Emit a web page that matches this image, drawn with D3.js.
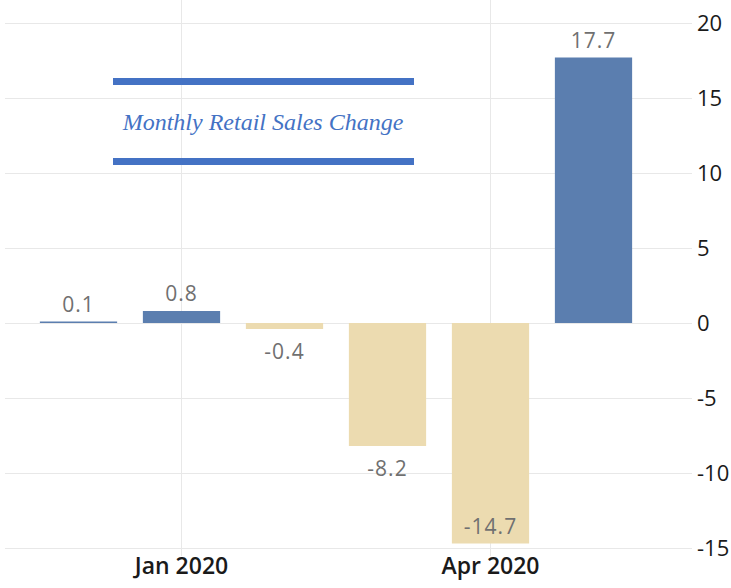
<!DOCTYPE html>
<html>
<head>
<meta charset="utf-8">
<script src="https://cdn.jsdelivr.net/npm/d3@7"></script>
<style>
    body { margin: 0; background: #fff; }
    svg { display: block; }
</style>
</head>
<body>
<div id="chart"></div>
<script>
// data
const months = ["Dec 2019", "Jan 2020", "Feb 2020", "Mar 2020", "Apr 2020", "May 2020"];
const changes = [0.1, 0.8, -0.4, -8.2, -14.7, 17.7];
const xTickLabels = ["Jan 2020", "Apr 2020"];
const yTicks = [-15, -10, -5, 0, 5, 10, 15, 20];
const title = "Monthly Retail Sales Change";

const W = 731, H = 588;

const svg = d3.select('#chart').append('svg')
    .attr('width', W)
    .attr('height', H);

const x = d3.scaleBand()
    .domain(months)
    .range([27, 645])
    .paddingInner(0.25)
    .paddingOuter(0.125);

const y = d3.scaleLinear()
    .domain([-15, 20])
    .range([548, 23]);

// horizontal grid + right labels (plain hyphen, not unicode minus)
const yAxis = svg.append('g')
    .attr('transform', 'translate(692,0)')
    .call(d3.axisLeft(y).tickValues(yTicks).tickSize(687).tickFormat(d => String(d)));
yAxis.select('.domain').remove();
yAxis.selectAll('line').attr('stroke', '#e8e8e8');
yAxis.selectAll('text')
    .attr('x', 5)
    .attr('text-anchor', 'start')
    .attr('dy', '0.33em')
    .style('font-family', '"Open Sans", sans-serif')
    .style('font-size', '22px')
    .style('fill', '#1a1a1a');

// vertical grid at labelled months
const xAxis = svg.append('g')
    .attr('transform', 'translate(0,556)')
    .call(d3.axisBottom(x).tickValues(xTickLabels).tickSize(-556).tickPadding(6));
xAxis.select('.domain').remove();
xAxis.selectAll('line').attr('stroke', '#e8e8e8');
xAxis.selectAll('text')
    .style('font-family', '"Open Sans", sans-serif')
    .style('font-size', '23px')
    .style('font-weight', '600')
    .style('fill', '#1a1a1a')
    .attr('dy', '0.5em');

const bars = months.map((m, i) => ({month: m, value: changes[i]}));

svg.selectAll('.bar')
    .data(bars)
    .enter().append('rect')
    .attr('class', 'bar')
    .attr('x', d => x(d.month))
    .attr('y', d => y(Math.max(0, d.value)))
    .attr('width', x.bandwidth())
    .attr('height', d => Math.abs(y(d.value) - y(0)))
    .attr('fill', d => d.value >= 0 ? '#5b7eaf' : '#ecdbb0');

// value labels: above positive bars, below negative ones (inside if no room)
svg.selectAll('.label')
    .data(bars)
    .enter().append('text')
    .attr('class', 'label')
    .attr('x', d => x(d.month) + x.bandwidth() / 2)
    .attr('y', d => {
        if (d.value >= 0) return y(d.value) - 10;
        const below = y(d.value) + 30;
        return below > y(-15) ? y(d.value) - 10 : below;
    })
    .attr('text-anchor', 'middle')
    .style('font-family', '"Open Sans", sans-serif')
    .style('font-size', '21px')
    .style('letter-spacing', '1px')
    .style('fill', '#707070')
    .text(d => d.value);

// title box
const tg = svg.append('g');
[81.5, 161.5].forEach(ly => {
    tg.append('line')
        .attr('x1', 113).attr('x2', 414)
        .attr('y1', ly).attr('y2', ly)
        .attr('stroke', '#4472c4')
        .attr('stroke-width', 7);
});
tg.append('text')
    .attr('x', 263)
    .attr('y', 130)
    .attr('text-anchor', 'middle')
    .style('font-family', '"Liberation Serif", "Times New Roman", serif')
    .style('font-style', 'italic')
    .style('font-size', '24px')
    .style('fill', '#4472c4')
    .text(title);
</script>
</body>
</html>
